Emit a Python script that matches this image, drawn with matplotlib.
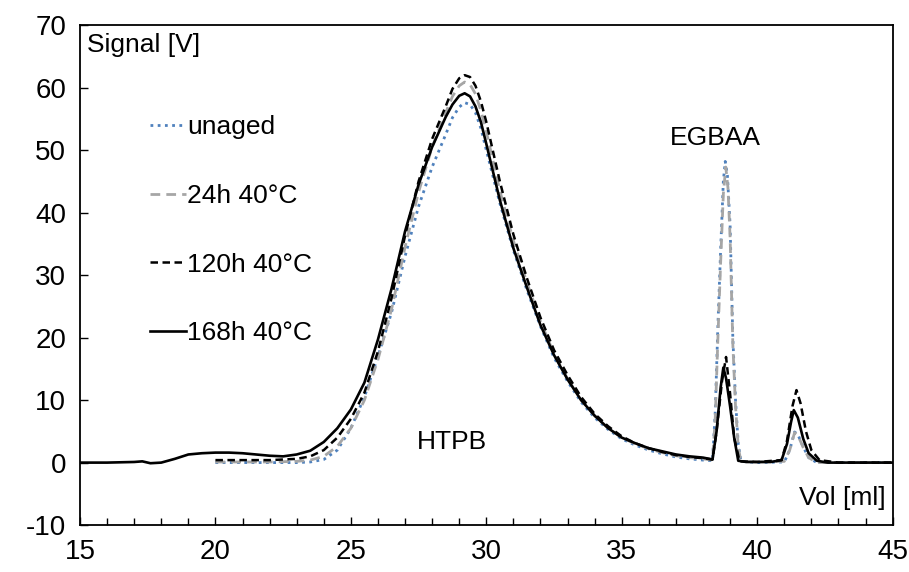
import matplotlib
matplotlib.use("Agg")
import matplotlib.pyplot as plt
from matplotlib.ticker import MultipleLocator

plt.rcParams["font.family"] = ["Liberation Sans", "DejaVu Sans"]
plt.rcParams["axes.unicode_minus"] = False

# 168h 40°C (solid)
x_168 = [15, 16, 17, 17.3, 17.6, 18, 18.5, 19, 19.5, 20, 20.5, 21, 21.5, 22, 22.5,
         23, 23.5, 24, 24.5, 25, 25.5, 26, 26.5, 27, 27.5, 28, 28.5, 28.75, 29, 29.2,
         29.4, 29.6, 29.8, 30, 30.5, 31, 31.5, 32, 32.5, 33, 33.5, 34, 34.5, 35, 35.5,
         36, 36.5, 37, 37.5, 38, 38.35, 38.5, 38.65, 38.75, 38.85, 39.0, 39.15, 39.3,
         39.6, 40, 40.5, 40.9, 41.1, 41.25, 41.35, 41.5, 41.7, 41.9, 42.2, 42.6, 43, 44, 45]
y_168 = [0, 0, 0.1, 0.2, -0.1, 0, 0.6, 1.3, 1.5, 1.6, 1.6, 1.5, 1.3, 1.1, 1.0,
         1.3, 1.9, 3.3, 5.5, 8.5, 12.8, 19.7, 27.8, 37, 44.5, 50.5, 55.3, 57.3, 58.7, 59.1,
         58.6, 57, 54.5, 51, 42, 34.3, 28, 22, 17.2, 13.3, 10, 7.5, 5.5, 4, 3.1,
         2.3, 1.8, 1.3, 1.0, 0.8, 0.5, 5, 12, 15.2, 13.5, 9, 4, 0.3,
         0.1, 0.1, 0.1, 0.4, 3, 6.5, 8.4, 7.2, 3.8, 1.5, 0.3, 0, 0, 0, 0]

# 120h 40°C (black dashed)
x_120 = [20, 21, 22, 23, 23.5, 24, 24.5, 25, 25.5, 26, 26.5, 27, 27.5, 28, 28.5,
         28.75, 29, 29.2, 29.4, 29.6, 29.8, 30, 30.5, 31, 31.5, 32, 32.5, 33, 33.5,
         34, 34.5, 35, 35.5, 36, 36.5, 37, 37.5, 38, 38.35, 38.5, 38.7, 38.85, 39.0,
         39.15, 39.35, 40, 40.9, 41.1, 41.3, 41.45, 41.6, 41.8, 42, 42.3, 43, 44, 45]
y_120 = [0.4, 0.4, 0.4, 0.6, 1.0, 2.0, 4.0, 7.0, 11.2, 17.8, 26.3, 36.3, 45, 51.8, 57,
         59.8, 61.5, 62, 61.7, 60.3, 57.8, 54.5, 45, 36.5, 29.5, 23.2, 18, 14, 10.5,
         7.8, 5.8, 4.2, 3.1, 2.3, 1.7, 1.2, 0.9, 0.7, 0.5, 5, 13, 16.9, 11,
         4, 0.2, 0.1, 0.4, 3.5, 9, 11.6, 9.5, 5, 2, 0.4, 0, 0, 0]

# 24h 40°C (grey dashed)
x_24 = [20, 21, 22, 23, 23.5, 24, 24.5, 25, 25.5, 26, 26.5, 27, 27.5, 28, 28.5,
        28.75, 29, 29.2, 29.4, 29.6, 29.8, 30, 30.5, 31, 31.5, 32, 32.5, 33, 33.5,
        34, 34.5, 35, 35.5, 36, 36.5, 37, 37.5, 38, 38.35, 38.45, 38.55, 38.65, 38.75,
        38.84, 38.92, 39.0, 39.1, 39.2, 39.3, 39.4, 40, 41, 41.2, 41.38, 41.5, 41.7,
        41.9, 42.2, 43, 45]
y_24 = [0.1, 0.1, 0.1, 0.2, 0.4, 1.0, 2.6, 5.5, 10, 16.5, 24.5, 34.5, 43.3, 50.5, 56,
        58.6, 60.3, 60.9, 60.5, 59, 56.3, 53, 43.5, 35.5, 28.8, 22.6, 17.4, 13.4, 10,
        7.5, 5.5, 4, 3, 2.2, 1.6, 1.1, 0.8, 0.6, 0.4, 7, 20, 32, 43,
        47.3, 44, 36, 19, 9, 2.5, 0.2, 0.1, 0.2, 2, 4.8, 4.4, 2.4,
        0.8, 0, 0, 0]

# unaged (blue dotted)
x_unaged = [20, 21, 22, 23, 23.5, 24, 24.5, 25, 25.5, 26, 26.5, 27, 27.5, 28, 28.5,
            28.75, 29, 29.2, 29.4, 29.6, 29.8, 30, 30.5, 31, 31.5, 32, 32.5, 33, 33.5,
            34, 34.5, 35, 35.5, 36, 36.5, 37, 37.5, 38, 38.35, 38.45, 38.55, 38.65,
            38.75, 38.82, 38.9, 39.0, 39.1, 39.2, 39.3, 39.4, 40, 41, 41.2, 41.38,
            41.5, 41.7, 41.9, 42.2, 43, 45]
y_unaged = [0, 0, 0, 0, 0.1, 0.5, 2.0, 5.5, 10.5, 17, 24, 33, 41, 47.3, 52.5,
            55.2, 56.9, 57.6, 57.3, 56, 53.5, 50, 41.5, 34, 27.6, 21.8, 16.8, 13, 9.7,
            7.2, 5.3, 3.8, 2.8, 2, 1.4, 0.9, 0.6, 0.4, 0.3, 8, 22, 34,
            45, 48.2, 46, 38, 20, 10, 3, 0.2, 0, 0.1, 2, 4.9,
            4.5, 2.5, 0.8, 0, 0, 0]

fig = plt.figure(figsize=(9.09, 5.72), dpi=100)
ax = fig.add_axes([0.088, 0.082, 0.894, 0.874])

ax.plot(x_unaged, y_unaged, color="#4f81bd", linestyle=(0, (1, 1.6)), linewidth=2,
        label="unaged")
ax.plot(x_24, y_24, color="#a6a6a6", linestyle=(0, (3.5, 2.2)), linewidth=2,
        label="24h 40°C")
ax.plot(x_120, y_120, color="black", linestyle=(0, (3, 1.8)), linewidth=1.8,
        label="120h 40°C")
ax.plot(x_168, y_168, color="black", linestyle="-", linewidth=1.9,
        label="168h 40°C")

ax.set_xlim(15, 45)
ax.set_ylim(-10, 70)
ax.xaxis.set_major_locator(MultipleLocator(5))
ax.xaxis.set_minor_locator(MultipleLocator(1))
ax.yaxis.set_major_locator(MultipleLocator(10))
ax.tick_params(axis="both", which="both", direction="in", labelsize=20,
               top=False, right=False)
ax.tick_params(axis="both", which="major", length=6, width=1, pad=10)
ax.tick_params(axis="x", which="minor", length=5, width=1)
for s in ax.spines.values():
    s.set_linewidth(1.3)

ax.text(15.25, 66.9, "Signal [V]", fontsize=19, va="center", ha="left")
ax.text(44.75, -5.7, "Vol [ml]", fontsize=19, va="center", ha="right")
ax.text(28.73, 3.3, "HTPB", fontsize=19, va="center", ha="center")
ax.text(38.47, 51.9, "EGBAA", fontsize=19, va="center", ha="center")

ax.legend(loc="upper left", bbox_to_anchor=(0.057, 0.868), frameon=False, fontsize=19,
          handlelength=1.35, handletextpad=0.05, labelspacing=1.7, borderpad=0.4)

fig.savefig("out.png", dpi=100)
